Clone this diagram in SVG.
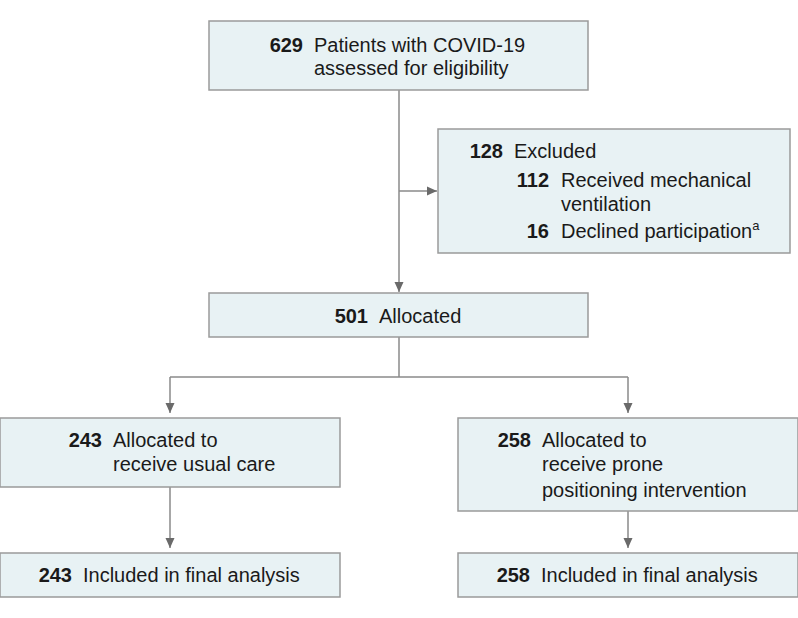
<svg xmlns="http://www.w3.org/2000/svg" width="798" height="618" viewBox="0 0 798 618">
<style>
.box{fill:#e8f2f4;stroke:#9a9a9a;stroke-width:1.5}
.t{font-family:"Liberation Sans",Arial,sans-serif;font-size:20px;fill:#1a1a1a}
.n{font-weight:bold;text-anchor:end}
.ln{fill:none;stroke:#8a8a8a;stroke-width:1.5}
</style>
<defs>
<marker id="ah" viewBox="0 0 10 10" refX="10" refY="5" markerWidth="10" markerHeight="10" markerUnits="userSpaceOnUse" orient="auto">
<path d="M0,0.5 L10,5 L0,9.5 Z" fill="#6a6a6a"/>
</marker>
</defs>
<rect width="798" height="618" fill="#fff"/>
<g id="connectors">
<path class="ln" d="M399,90 V292" marker-end="url(#ah)"/>
<path class="ln" d="M399,191 H437" marker-end="url(#ah)"/>
<path class="ln" d="M399,337 V377"/>
<path class="ln" d="M170,377 H628"/>
<path class="ln" d="M170,377 V413" marker-end="url(#ah)"/>
<path class="ln" d="M628,377 V413" marker-end="url(#ah)"/>
<path class="ln" d="M170,487 V548" marker-end="url(#ah)"/>
<path class="ln" d="M628,511 V548" marker-end="url(#ah)"/>
</g>
<g id="assessed">
<rect class="box" x="209" y="21" width="379" height="69"/>
<text class="t n" x="303" y="52">629</text>
<text class="t" x="314" y="52">Patients with COVID-19</text>
<text class="t" x="314" y="75">assessed for eligibility</text>
</g>
<g id="excluded">
<rect class="box" x="438" y="129" width="352" height="124"/>
<text class="t n" x="503" y="158">128</text>
<text class="t" x="514" y="158">Excluded</text>
<text class="t n" x="549" y="187">112</text>
<text class="t" x="561" y="187">Received mechanical</text>
<text class="t" x="561" y="211">ventilation</text>
<text class="t n" x="549" y="238">16</text>
<text class="t" x="561" y="238">Declined participation<tspan font-size="13" dy="-8">a</tspan></text>
</g>
<g id="allocated">
<rect class="box" x="209" y="293" width="379" height="44"/>
<text class="t n" x="368" y="323">501</text>
<text class="t" x="379" y="323">Allocated</text>
</g>
<g id="usual-care">
<rect class="box" x="0" y="418" width="340" height="69"/>
<text class="t n" x="102" y="447">243</text>
<text class="t" x="113" y="447">Allocated to</text>
<text class="t" x="113" y="471">receive usual care</text>
</g>
<g id="prone">
<rect class="box" x="458" y="418" width="340" height="93"/>
<text class="t n" x="531" y="447">258</text>
<text class="t" x="542" y="447">Allocated to</text>
<text class="t" x="542" y="471">receive prone</text>
<text class="t" x="542" y="497">positioning intervention</text>
</g>
<g id="usual-final">
<rect class="box" x="0" y="553" width="340" height="44"/>
<text class="t n" x="72" y="582">243</text>
<text class="t" x="83" y="582">Included in final analysis</text>
</g>
<g id="prone-final">
<rect class="box" x="458" y="553" width="340" height="44"/>
<text class="t n" x="530" y="582">258</text>
<text class="t" x="541" y="582">Included in final analysis</text>
</g>
</svg>
